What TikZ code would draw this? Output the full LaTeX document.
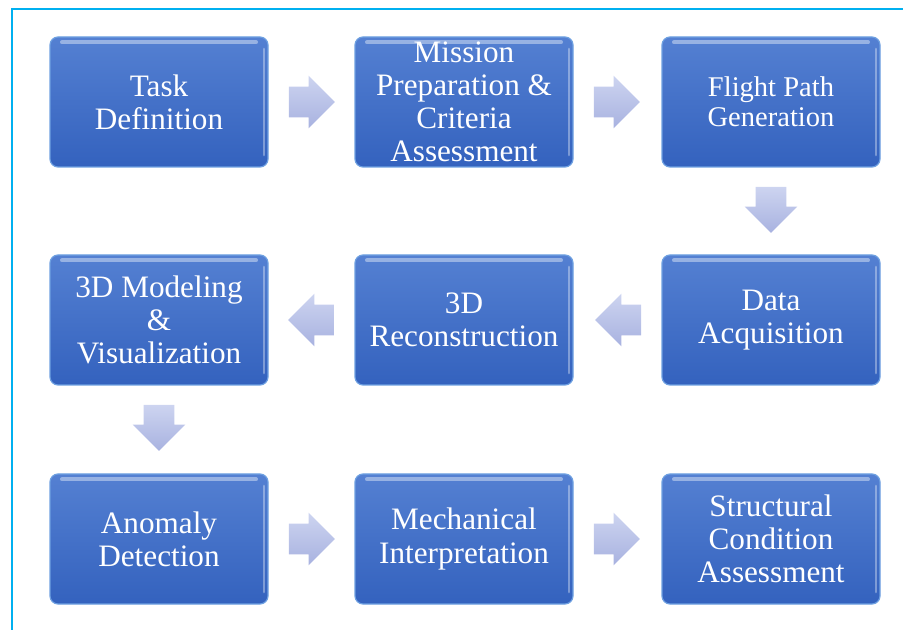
\documentclass[tikz,border=0pt]{standalone}
\usepackage{fontspec}
\setmainfont{Liberation Serif}
\usetikzlibrary{shapes.arrows,calc}

\definecolor{boxtop}{RGB}{84,128,210}
\definecolor{boxbot}{RGB}{52,98,190}
\definecolor{boxrim}{RGB}{110,160,225}
\definecolor{arrowtop}{RGB}{205,212,240}
\definecolor{arrowbot}{RGB}{168,178,224}
\definecolor{framecyan}{RGB}{0,176,240}

\begin{document}
\begin{tikzpicture}[x=0.75pt,y=-0.75pt,
            stage/.style = {rectangle,
                rounded corners=6pt,
                minimum width=163.5pt,
                minimum height=97.5pt,
                inner xsep=2pt, inner ysep=0pt,
                top color=boxtop, bottom color=boxbot,
                draw=boxrim, line width=0.9pt,
                text=white, align=center,
                font=\fontsize{23.4}{24.8}\selectfont,
                path picture={
                    \draw[white,opacity=0.4,line width=3pt,line cap=round]
                        ([xshift=9pt,yshift=-4pt]path picture bounding box.north west)
                        -- ([xshift=-9pt,yshift=-4pt]path picture bounding box.north east);
                    \draw[white,opacity=0.35,line width=2pt,line cap=round]
                        ([xshift=-3pt,yshift=-9pt]path picture bounding box.north east)
                        -- ([xshift=-3pt,yshift=9pt]path picture bounding box.south east);
                    }},
            flow/.style = {single arrow,
                anchor=tail,
                minimum height=34.5pt,
                inner xsep=0pt, inner ysep=11.25pt,
                single arrow head extend=8.25pt,
                top color=arrowtop, bottom color=arrowbot,
                draw=none}]

        \useasboundingbox (0,0) rectangle (903,630);

        % Frame
        \draw[framecyan,line width=1.5pt] (12,630) -- (12,9) -- (903,9);

        % First row
        \node[stage] (task) at (159,102) {Task\\Definition};
        \node[stage] (prep) at (464,102) {Mission\\Preparation \&\\Criteria\\Assessment};
        \node[stage,font=\fontsize{21.4}{22.6}\selectfont] (path) at (771,102) {Flight Path\\Generation};

        % Second row
        \node[stage] (model) at (159,320) {3D Modeling\\\&\\Visualization};
        \node[stage] (recon) at (464,320) {3D\\Reconstruction};
        \node[stage] (acq) at (771,320) {Data\\Acquisition};

        % Third row
        \node[stage] (anom) at (159,539) {Anomaly\\Detection};
        \node[stage] (mech) at (464,539) {Mechanical\\Interpretation};
        \node[stage] (cond) at (771,539) {Structural\\Condition\\Assessment};

        % Block arrows
        \node[flow] (f1) at ($(task.east)+(20,0)$) {};
        \node[flow] (f2) at ($(prep.east)+(20,0)$) {};
        \node[flow,rotate=-90] (f3) at ($(path.south)+(0,19)$) {};
        \node[flow,rotate=180] (f4) at ($(acq.west)+(-20,0)$) {};
        \node[flow,rotate=180] (f5) at ($(recon.west)+(-20,0)$) {};
        \node[flow,rotate=-90] (f6) at ($(model.south)+(0,19)$) {};
        \node[flow] (f7) at ($(anom.east)+(20,0)$) {};
        \node[flow] (f8) at ($(mech.east)+(20,0)$) {};

        \end{tikzpicture}
\end{document}
